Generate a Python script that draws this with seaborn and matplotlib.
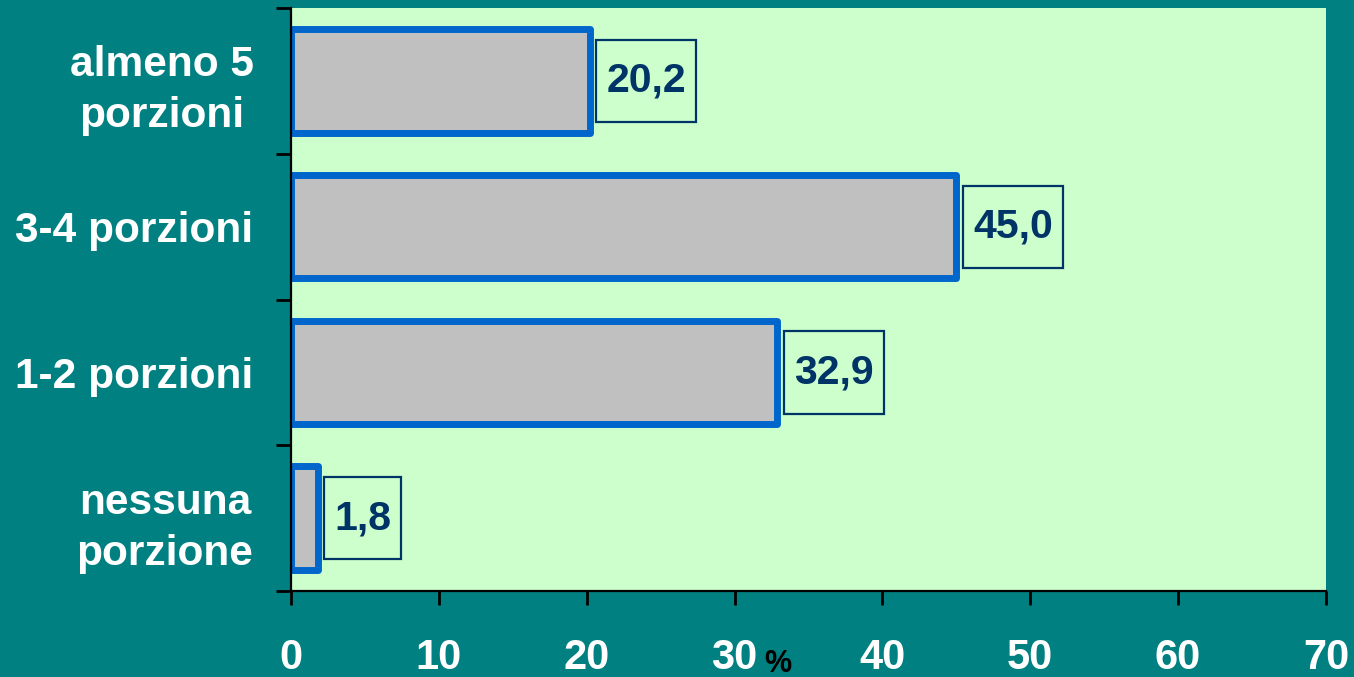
import matplotlib
matplotlib.use("Agg")
import matplotlib.pyplot as plt
from matplotlib.path import Path
from matplotlib.ticker import FixedLocator
import seaborn as sns
import pandas as pd

# Daily portions of fruit and vegetables (% of respondents)
categories = ["almeno 5\nporzioni", "3-4 porzioni", "1-2 porzioni", "nessuna\nporzione"]
values = [20.2, 45.0, 32.9, 1.8]
x_ticks = [0, 10, 20, 30, 40, 50, 60, 70]

sns.set_style("ticks")
plt.rcParams["font.family"] = ["Liberation Sans", "DejaVu Sans"]
plt.rcParams["font.weight"] = "bold"

df = pd.DataFrame({"categoria": categories, "valore": values})

fig = plt.figure(figsize=(13.54, 6.77), dpi=100, facecolor="#008080")
ax = fig.add_axes([0.2149, 0.127, 0.9793 - 0.2149, 0.988 - 0.127])
ax.set_facecolor("#CCFFCC")

sns.barplot(data=df, x="valore", y="categoria", orient="h", width=0.71,
            color="#C0C0C0", saturation=1, edgecolor="#0066CC", linewidth=5,
            ax=ax)
for patch in ax.patches:
    patch.set_joinstyle("round")
    patch.set_facecolor("#C0C0C0")


def label_box(x0, y0, width, height, mutation_size):
    """Rectangle with separate horizontal and vertical padding."""
    px = 0.24 * mutation_size
    py = 0.54 * mutation_size
    verts = [(x0 - px, y0 - py), (x0 + width + px, y0 - py),
             (x0 + width + px, y0 + height + py), (x0 - px, y0 + height + py),
             (x0 - px, y0 - py)]
    return Path(verts, closed=True)


for i, v in enumerate(values):
    ax.annotate(f"{v:.1f}".replace(".", ","), xy=(v, i), xytext=(12, 0),
                textcoords="offset points", ha="left", va="center",
                fontsize=29.5, fontweight="bold", color="#003366",
                bbox=dict(boxstyle=label_box, facecolor="none",
                          edgecolor="#003366", linewidth=1.6))

ax.set_xlim(0, 70)
ax.set_ylim(len(categories) - 0.5, -0.5)
ax.set_xticks(x_ticks)
ax.set_xticklabels([str(t) for t in x_ticks])

# category labels at band centres, tick marks at band boundaries
ax.yaxis.set_minor_locator(FixedLocator([b - 0.5 for b in range(len(categories) + 1)]))
ax.tick_params(axis="y", which="major", length=0, pad=27, labelsize=30.6,
               labelcolor="white")
ax.tick_params(axis="y", which="minor", length=11, width=2, color="black",
               direction="out")
ax.tick_params(axis="x", which="major", length=10, width=2, color="black",
               direction="out", pad=24, labelsize=30, labelcolor="white")
for lbl in ax.get_yticklabels():
    lbl.set_multialignment("center")
    lbl.set_linespacing(1.35)
    lbl.set_fontweight("bold")
for lbl in ax.get_xticklabels():
    lbl.set_fontweight("bold")

ax.set_ylabel("")
ax.set_xlabel("%", fontsize=22, fontweight="bold", color="black")
ax.xaxis.set_label_coords(0.47, -0.10)

for side in ("top", "right"):
    ax.spines[side].set_visible(False)
for side in ("left", "bottom"):
    ax.spines[side].set_color("black")
    ax.spines[side].set_linewidth(1.6)

fig.savefig("out.png", dpi=100, facecolor=fig.get_facecolor())
